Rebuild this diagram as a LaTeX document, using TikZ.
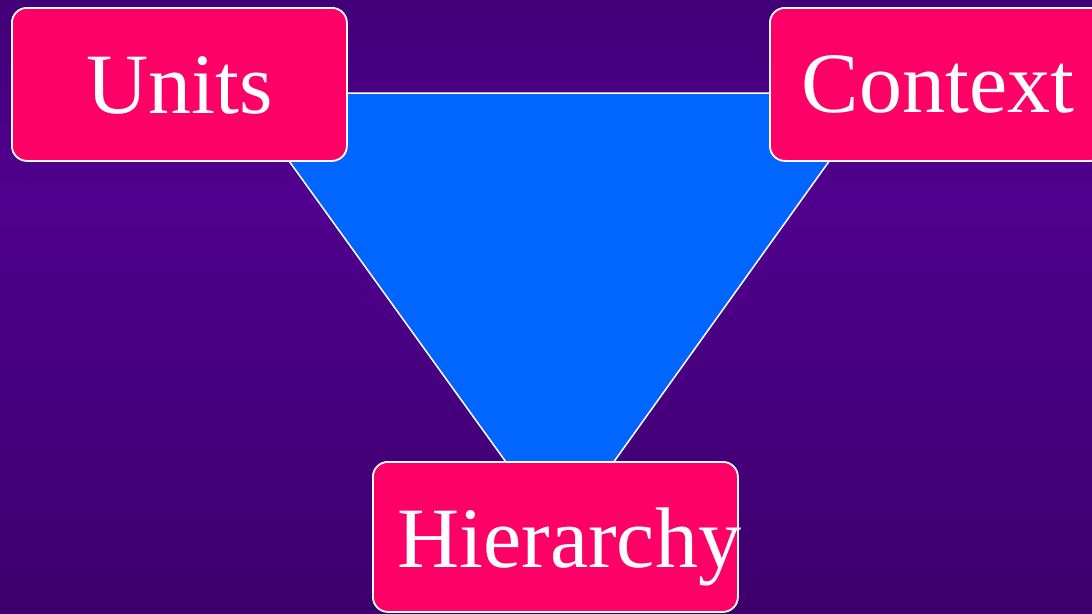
\documentclass[tikz,border=0pt]{standalone}
\usepackage{fontspec}
\setmainfont{Liberation Serif}
\definecolor{bgtop}{HTML}{420078}
\definecolor{bgmid}{HTML}{50008E}
\definecolor{bgbot}{HTML}{3C006C}
\definecolor{boxpink}{HTML}{FF0066}
\definecolor{triblue}{HTML}{0066FF}
\begin{document}
\begin{tikzpicture}[x=1pt,y=-1pt,
  conceptbox/.style={draw=white, line width=1.8pt, fill=boxpink,
    rounded corners=15pt, inner sep=0pt},
  concepttext/.style={text=white, inner sep=0pt,
    font=\fontsize{86}{100}\selectfont}]
  % page and background
  \useasboundingbox (0,0) rectangle (1092,613);
  \shade[top color=bgtop, bottom color=bgmid] (0,0) rectangle (1092,200);
  \shade[top color=bgmid, bottom color=bgbot] (0,199.5) rectangle (1092,613);
  % inverted triangle joining the three concepts
  \coordinate (tl) at (240,93);
  \coordinate (tr) at (878,93);
  \coordinate (ap) at (560,537);
  \draw[white, line width=1.5pt, fill=triblue, line join=miter] (tl) -- (tr) -- (ap) -- cycle;
  % concept boxes
  \node[conceptbox, minimum width=335pt, minimum height=153pt, anchor=north west] (units) at (11,7) {};
  \node[concepttext, anchor=base] (unitstext) at (units.center |- 0,113) {Units};
  \node[conceptbox, minimum width=336pt, minimum height=153pt, anchor=north west] (context) at (769,7) {};
  \node[concepttext, anchor=base] (contexttext) at (context.center |- 0,112) {Context};
  \node[conceptbox, minimum width=365pt, minimum height=150pt, anchor=north west] (hier) at (372,461) {};
  \node[concepttext, anchor=base west] (hiertext) at (397,567) {Hierarchy};
\end{tikzpicture}
\end{document}
